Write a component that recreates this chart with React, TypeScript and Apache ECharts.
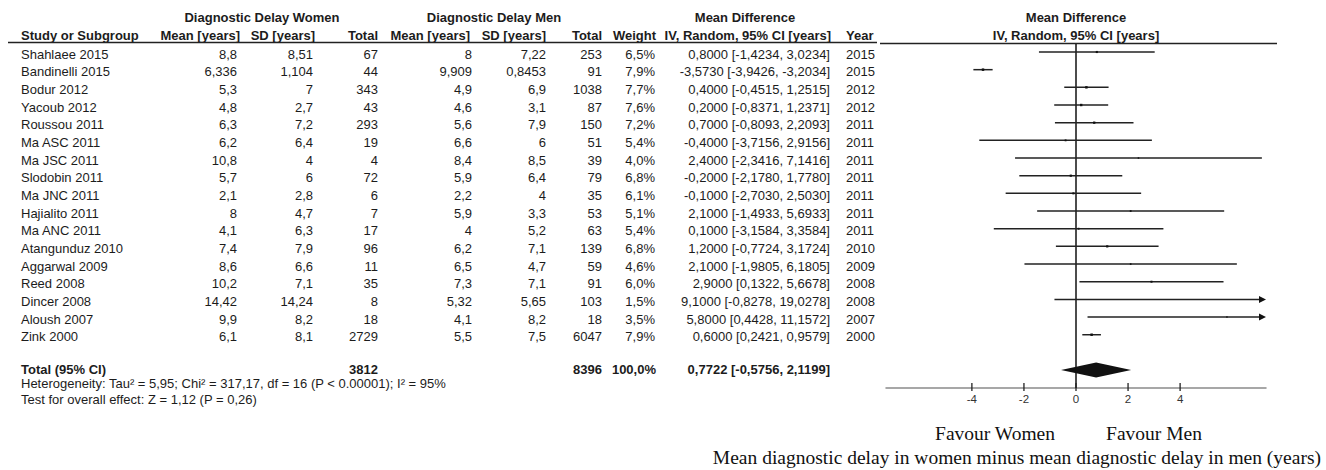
import React, { useEffect, useRef } from "react";
import * as echarts from "echarts";

const studies = ["Shahlaee 2015", "Bandinelli 2015", "Bodur 2012", "Yacoub 2012", "Roussou 2011", "Ma ASC 2011", "Ma JSC 2011", "Slodobin 2011", "Ma JNC 2011", "Hajialito 2011", "Ma ANC 2011", "Atangunduz 2010", "Aggarwal 2009", "Reed 2008", "Dincer 2008", "Aloush 2007", "Zink 2000"];
const womenMean = [8.8, 6.336, 5.3, 4.8, 6.3, 6.2, 10.8, 5.7, 2.1, 8, 4.1, 7.4, 8.6, 10.2, 14.42, 9.9, 6.1];
const womenSD = [8.51, 1.104, 7, 2.7, 7.2, 6.4, 4, 6, 2.8, 4.7, 6.3, 7.9, 6.6, 7.1, 14.24, 8.2, 8.1];
const womenN = [67, 44, 343, 43, 293, 19, 4, 72, 6, 7, 17, 96, 11, 35, 8, 18, 2729];
const menMean = [8, 9.909, 4.9, 4.6, 5.6, 6.6, 8.4, 5.9, 2.2, 5.9, 4, 6.2, 6.5, 7.3, 5.32, 4.1, 5.5];
const menSD = [7.22, 0.8453, 6.9, 3.1, 7.9, 6, 8.5, 6.4, 4, 3.3, 5.2, 7.1, 4.7, 7.1, 5.65, 8.2, 7.5];
const menN = [253, 91, 1038, 87, 150, 51, 39, 79, 35, 53, 63, 139, 59, 91, 103, 18, 6047];
const weights = [6.5, 7.9, 7.7, 7.6, 7.2, 5.4, 4.0, 6.8, 6.1, 5.1, 5.4, 6.8, 4.6, 6.0, 1.5, 3.5, 7.9];
const meanDiff = [0.8, -3.573, 0.4, 0.2, 0.7, -0.4, 2.4, -0.2, -0.1, 2.1, 0.1, 1.2, 2.1, 2.9, 9.1, 5.8, 0.6];
const ciLow = [-1.4234, -3.9426, -0.4515, -0.8371, -0.8093, -3.7156, -2.3416, -2.178, -2.703, -1.4933, -3.1584, -0.7724, -1.9805, 0.1322, -0.8278, 0.4428, 0.2421];
const ciHigh = [3.0234, -3.2034, 1.2515, 1.2371, 2.2093, 2.9156, 7.1416, 1.778, 2.503, 5.6933, 3.3584, 3.1724, 6.1805, 5.6678, 19.0278, 11.1572, 0.9579];
const years = [2015, 2015, 2012, 2012, 2011, 2011, 2011, 2011, 2011, 2011, 2011, 2010, 2009, 2008, 2008, 2007, 2000];

const totalWomen = 3812;
const totalMen = 8396;
const totalWeight = 100.0;
const totalMD = 0.7722;
const totalLow = -0.5756;
const totalHigh = 2.1199;
const totalRow = 18;

const tickValues = [-4, -2, 0, 2, 4];
const heterogeneityText = "Heterogeneity: Tau\u00B2 = 5,95; Chi\u00B2 = 317,17, df = 16 (P < 0.00001); I\u00B2 = 95%";
const overallText = "Test for overall effect: Z = 1,12 (P = 0,26)";

const X_MIN = -7.3;
const X_MAX = 7.3;
const Y_MIN = -0.453;
const Y_MAX = 19.015;

const comma = (v: number) => String(v).replace(".", ",");
const fix = (v: number, d: number) => v.toFixed(d).replace(".", ",");
const ciText = (m: number, l: number, h: number) => `${fix(m, 4)} [${fix(l, 4)}, ${fix(h, 4)}]`;

const SANS = '"Liberation Sans", Arial, sans-serif';
const SERIF = '"Liberation Serif", "Times New Roman", serif';
const TXT = "#1c1c1c";

function txt(text: string, x: number, y: number, align: string, bold = false, size = 13, family = SANS, fill = TXT) {
  return {
    type: "text",
    x,
    y,
    silent: true,
    style: {
      text,
      fill,
      font: `${bold ? "bold " : ""}${size}px ${family}`,
      textAlign: align,
      textVerticalAlign: "middle",
      align,
      verticalAlign: "middle",
    },
  };
}

export default function App() {
  const ref = useRef<HTMLDivElement>(null);

  useEffect(() => {
    document.body.style.margin = "0";
    document.body.style.overflow = "hidden";
    if (!ref.current) return;
    const chart = echarts.init(ref.current, null, { renderer: "svg" });

    const ciData = studies.map((_, i) => [meanDiff[i], ciLow[i], ciHigh[i], i, weights[i]]);

    chart.setOption({
      animation: false,
      backgroundColor: "#ffffff",
      grid: { left: 886, top: 44, width: 380, height: 344, containLabel: false },
      xAxis: {
        type: "value",
        min: X_MIN,
        max: X_MAX,
        position: "bottom",
        axisLine: { show: true, onZero: false, lineStyle: { color: "#8a8a8a", width: 1.5 } },
        axisTick: { show: false },
        splitLine: { show: false },
        axisLabel: {
          show: true,
          customValues: tickValues,
          formatter: (v: number) => String(v),
          color: "#333",
          fontSize: 11.5,
          fontFamily: SANS,
          margin: 5,
        },
      },
      yAxis: {
        type: "value",
        min: Y_MIN,
        max: Y_MAX,
        inverse: true,
        show: false,
        splitLine: { show: false },
      },
      series: [
        {
          type: "line",
          data: [[0, Y_MIN], [0, Y_MAX]],
          symbol: "none",
          lineStyle: { color: "#111", width: 1.5 },
          silent: true,
          z: 3,
        },
        {
          type: "custom",
          data: ciData,
          encode: { x: 0, y: 3 },
          clip: false,
          z: 4,
          renderItem: (params: any, api: any) => {
            const m = api.value(0), lo = api.value(1), hi = api.value(2), row = api.value(3), w = api.value(4);
            const y = api.coord([0, row])[1];
            const x1 = api.coord([Math.max(lo, X_MIN), row])[0];
            const x2 = api.coord([Math.min(hi, X_MAX), row])[0];
            const xm = api.coord([m, row])[0];
            const s = 0.5 + w * 0.25;
            const children: any[] = [
              { type: "line", shape: { x1, y1: y, x2: hi > X_MAX ? x2 - 4 : x2, y2: y }, style: { stroke: "#222", lineWidth: 1.5 } },
            ];
            if (m >= X_MIN && m <= X_MAX) {
              children.push({ type: "rect", shape: { x: xm - s / 2, y: y - s / 2, width: s, height: s }, style: { fill: "#111" } });
            }
            if (hi > X_MAX) {
              children.push({ type: "polygon", shape: { points: [[x2, y], [x2 - 7, y - 3.5], [x2 - 7, y + 3.5]] }, style: { fill: "#111" } });
            }
            return { type: "group", children };
          },
        },
        {
          type: "custom",
          data: [[totalMD, totalLow, totalHigh, totalRow]],
          encode: { x: 0, y: 3 },
          clip: false,
          z: 5,
          renderItem: (params: any, api: any) => {
            const m = api.value(0), lo = api.value(1), hi = api.value(2), row = api.value(3);
            const y = api.coord([0, row])[1];
            const xl = api.coord([lo, row])[0];
            const xh = api.coord([hi, row])[0];
            const xm = api.coord([m, row])[0];
            return {
              type: "polygon",
              shape: { points: [[xl, y], [xm, y - 7.5], [xh, y], [xm, y + 7.5]] },
              style: { fill: "#111" },
            };
          },
        },
        {
          type: "custom",
          data: tickValues.map((v) => [v]),
          encode: { x: 0 },
          clip: false,
          z: 5,
          renderItem: (params: any, api: any) => {
            const v = api.value(0);
            const p = api.coord([v, Y_MAX]);
            return {
              type: "line",
              shape: { x1: p[0], y1: p[1] - 5, x2: p[0], y2: p[1] + 3 },
              style: { stroke: "#222", lineWidth: 1.3 },
            };
          },
        },
      ],
    });

    const rowY = (i: number) => chart.convertToPixel({ gridIndex: 0 }, [0, i])[1];
    const g: any[] = [];

    g.push(txt("Diagnostic Delay Women", 262, 17, "center", true));
    g.push(txt("Diagnostic Delay Men", 494, 17, "center", true));
    g.push(txt("Mean Difference", 745, 17, "center", true));
    g.push(txt("Mean Difference", 1076, 17, "center", true));
    g.push(txt("Study or Subgroup", 21, 35, "left", true));
    g.push(txt("Mean [years]", 240, 35, "right", true));
    g.push(txt("SD [years]", 315, 35, "right", true));
    g.push(txt("Total", 378, 35, "right", true));
    g.push(txt("Mean [years]", 470, 35, "right", true));
    g.push(txt("SD [years]", 546, 35, "right", true));
    g.push(txt("Total", 602, 35, "right", true));
    g.push(txt("Weight", 656, 35, "right", true));
    g.push(txt("IV, Random, 95% CI [years]", 831, 35, "right", true));
    g.push(txt("Year", 846, 35, "left", true));
    g.push(txt("IV, Random, 95% CI [years]", 1076, 35, "center", true));

    g.push({ type: "line", silent: true, shape: { x1: 8, y1: 42.5, x2: 877, y2: 42.5 }, style: { stroke: "#222", lineWidth: 1.5 } });
    g.push({ type: "line", silent: true, shape: { x1: 880, y1: 43.5, x2: 1277, y2: 43.5 }, style: { stroke: "#222", lineWidth: 1.5 } });

    studies.forEach((s, i) => {
      const y = rowY(i) + 2;
      g.push(txt(s, 21, y, "left"));
      g.push(txt(comma(womenMean[i]), 237, y, "right"));
      g.push(txt(comma(womenSD[i]), 313, y, "right"));
      g.push(txt(String(womenN[i]), 378, y, "right"));
      g.push(txt(comma(menMean[i]), 472, y, "right"));
      g.push(txt(comma(menSD[i]), 546, y, "right"));
      g.push(txt(String(menN[i]), 602, y, "right"));
      g.push(txt(fix(weights[i], 1) + "%", 655, y, "right"));
      g.push(txt(ciText(meanDiff[i], ciLow[i], ciHigh[i]), 830, y, "right"));
      g.push(txt(String(years[i]), 846, y, "left"));
    });

    const ty = rowY(totalRow) - 0.5;
    g.push(txt("Total (95% CI)", 21, ty, "left", true));
    g.push(txt(String(totalWomen), 378, ty, "right", true));
    g.push(txt(String(totalMen), 602, ty, "right", true));
    g.push(txt(fix(totalWeight, 1) + "%", 656, ty, "right", true));
    g.push(txt(ciText(totalMD, totalLow, totalHigh), 830, ty, "right", true));

    g.push(txt(heterogeneityText, 21, 383.5, "left", false, 13));
    g.push(txt(overallText, 21, 399, "left", false, 13));

    g.push(txt("Favour Women", 995, 433, "center", false, 19.5, SERIF, "#111"));
    g.push(txt("Favour Men", 1154, 433, "center", false, 19.5, SERIF, "#111"));
    g.push(txt("Mean diagnostic delay in women minus mean diagnostic delay in men (years)", 1321, 457, "right", false, 19.5, SERIF, "#111"));

    chart.setOption({ graphic: { elements: g } });

    return () => chart.dispose();
  }, []);

  return <div ref={ref} style={{ width: 1326, height: 470 }} />;
}
